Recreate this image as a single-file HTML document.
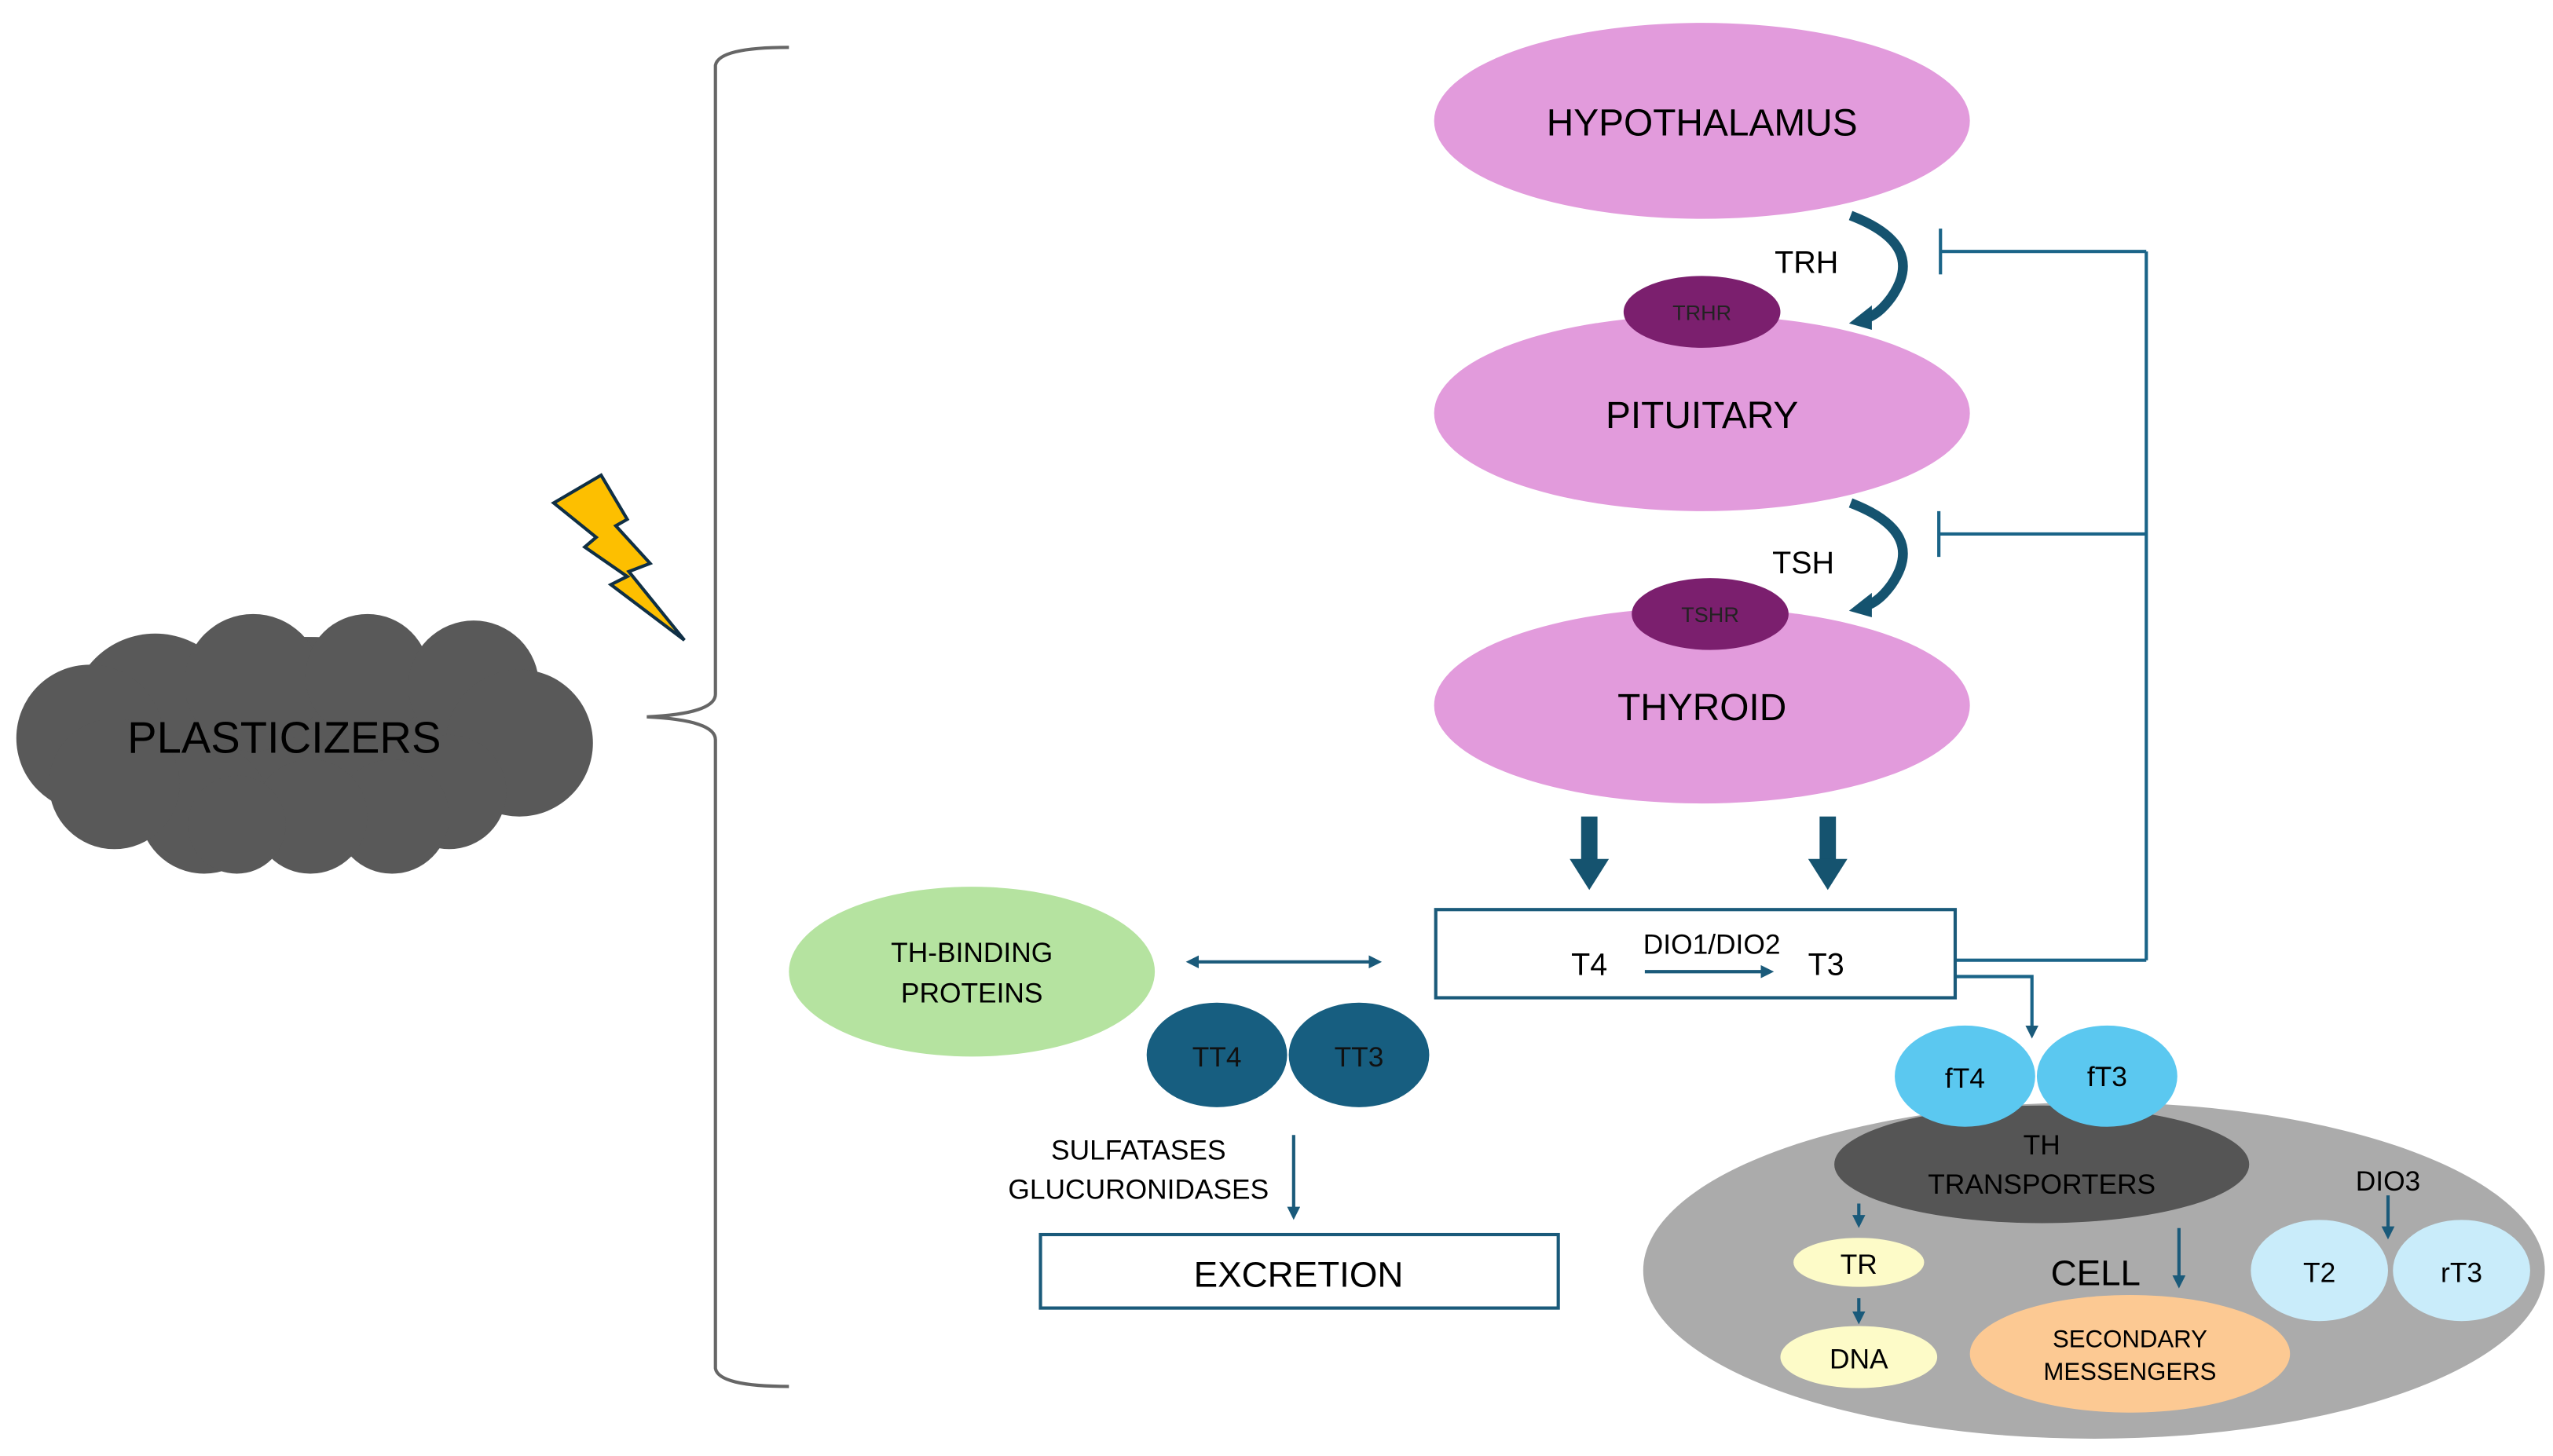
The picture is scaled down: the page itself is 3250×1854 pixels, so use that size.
<!DOCTYPE html>
<html><head><meta charset="utf-8"><style>html,body{margin:0;padding:0;background:#fff}svg{display:block}</style></head>
<body>
<svg width="3250" height="1854" viewBox="0 0 1563 891.6" preserveAspectRatio="none" xmlns="http://www.w3.org/2000/svg" font-family="Liberation Sans, sans-serif">
<defs>
<marker id="ah" markerWidth="8" markerHeight="8" refX="6" refY="4" orient="auto" markerUnits="userSpaceOnUse"><path d="M0,0 L8,4 L0,8 z" fill="#1a5a7a"/></marker>
<marker id="ahs" markerWidth="8" markerHeight="8" refX="2" refY="4" orient="auto-start-reverse" markerUnits="userSpaceOnUse"><path d="M0,0 L8,4 L0,8 z" fill="#1a5a7a"/></marker>
</defs>
<!-- brace -->
<path d="M483,29 Q440,29 438,40 L438,425 Q438,437 396,439 Q438,441 438,453 L438,838 Q440,849 483,849" fill="none" stroke="#666" stroke-width="2"/>
<!-- cloud -->
<g fill="#595959">
<ellipse cx="185" cy="455" rx="165" ry="65"/>
<circle cx="95" cy="440" r="52"/><circle cx="155" cy="418" r="42"/><circle cx="225" cy="414" r="38"/><circle cx="290" cy="420" r="40"/>
<circle cx="318" cy="455" r="45"/><circle cx="275" cy="485" r="35"/><circle cx="240" cy="500" r="35"/><circle cx="190" cy="500" r="35"/>
<circle cx="125" cy="495" r="40"/><circle cx="55" cy="452" r="45"/><circle cx="70" cy="480" r="40"/><circle cx="145" cy="505" r="30"/>
</g>
<text x="174" y="461" font-size="27" text-anchor="middle" fill="#000">PLASTICIZERS</text>
<!-- lightning -->
<polygon points="368,291 384,318 377,322 398,345 385,350 419,392 374,358 384,353 358,335 365,329 339,308" fill="#fdbf00" stroke="#0f2f45" stroke-width="2" stroke-linejoin="miter"/>
<!-- HPT ellipses -->
<ellipse cx="1042" cy="74" rx="164" ry="60" fill="#e29bdc"/>
<text x="1042" y="83" font-size="23" text-anchor="middle">HYPOTHALAMUS</text>
<ellipse cx="1042" cy="253" rx="164" ry="60" fill="#e29bdc"/>
<ellipse cx="1042" cy="191" rx="48" ry="22" fill="#7b1f6e"/>
<text x="1042" y="196" font-size="13" text-anchor="middle" fill="#222">TRHR</text>
<text x="1042" y="262" font-size="23" text-anchor="middle">PITUITARY</text>
<ellipse cx="1042" cy="432" rx="164" ry="60" fill="#e29bdc"/>
<ellipse cx="1047" cy="376" rx="48" ry="22" fill="#7b1f6e"/>
<text x="1047" y="381" font-size="13" text-anchor="middle" fill="#222">TSHR</text>
<text x="1042" y="441" font-size="23" text-anchor="middle">THYROID</text>
<text x="1106" y="167" font-size="19" text-anchor="middle">TRH</text>
<text x="1104" y="351" font-size="19" text-anchor="middle">TSH</text>
<!-- curved arrows -->
<path d="M1133,132 Q1180,150 1158,182 Q1150,193 1142,195" fill="none" stroke="#15536f" stroke-width="6"/>
<path d="M1132,198 L1146,187 L1146,202 z" fill="#15536f"/>
<path d="M1133,308 Q1180,326 1158,358 Q1150,369 1142,371" fill="none" stroke="#15536f" stroke-width="6"/>
<path d="M1132,374 L1146,363 L1146,378 z" fill="#15536f"/>
<!-- inhibition -->
<g stroke="#1a6488" stroke-width="2" fill="none">
<line x1="1188" y1="140" x2="1188" y2="168"/><line x1="1188" y1="154" x2="1314" y2="154"/>
<line x1="1187" y1="313" x2="1187" y2="341"/><line x1="1187" y1="327" x2="1314" y2="327"/>
<line x1="1314" y1="154" x2="1314" y2="588"/><line x1="1197" y1="588" x2="1314" y2="588"/>
<polyline points="1197,598 1244,598 1244,634" marker-end="url(#ah)"/>
</g>
<!-- thick down arrows -->
<g fill="#15536f">
<rect x="968" y="500" width="10" height="28"/><path d="M961,526 L985,526 L973,545 z"/>
<rect x="1114" y="500" width="10" height="28"/><path d="M1107,526 L1131,526 L1119,545 z"/>
</g>
<!-- T4/T3 box -->
<rect x="879" y="557" width="318" height="54" fill="#fff" stroke="#1a5a7a" stroke-width="2"/>
<text x="973" y="597" font-size="19" text-anchor="middle">T4</text>
<text x="1048" y="584" font-size="17" text-anchor="middle">DIO1/DIO2</text>
<text x="1118" y="597" font-size="19" text-anchor="middle">T3</text>
<line x1="1007" y1="595" x2="1084" y2="595" stroke="#1a5a7a" stroke-width="2" marker-end="url(#ah)"/>
<!-- TH binding -->
<ellipse cx="595" cy="595" rx="112" ry="52" fill="#b5e3a0"/>
<text x="595" y="589" font-size="17" text-anchor="middle">TH-BINDING</text>
<text x="595" y="614" font-size="17" text-anchor="middle">PROTEINS</text>
<line x1="732" y1="589" x2="844" y2="589" stroke="#1a5a7a" stroke-width="2" marker-start="url(#ahs)" marker-end="url(#ah)"/>
<ellipse cx="745" cy="646" rx="43" ry="32" fill="#175e80"/>
<ellipse cx="832" cy="646" rx="43" ry="32" fill="#175e80"/>
<text x="745" y="653" font-size="17" text-anchor="middle" fill="#111">TT4</text>
<text x="832" y="653" font-size="17" text-anchor="middle" fill="#111">TT3</text>
<text x="697" y="710" font-size="17" text-anchor="middle">SULFATASES</text>
<text x="697" y="734" font-size="17" text-anchor="middle">GLUCURONIDASES</text>
<line x1="792" y1="695" x2="792" y2="745" stroke="#1a5a7a" stroke-width="2" marker-end="url(#ah)"/>
<rect x="637" y="756" width="317" height="45" fill="#fff" stroke="#1a5a7a" stroke-width="2"/>
<text x="795" y="788" font-size="22" text-anchor="middle">EXCRETION</text>
<!-- cell -->
<ellipse cx="1282" cy="778" rx="276" ry="103" fill="#ababab"/>
<ellipse cx="1250" cy="713" rx="127" ry="36" fill="#555"/>
<ellipse cx="1203" cy="659" rx="43" ry="31" fill="#5bc8f0"/>
<ellipse cx="1290" cy="659" rx="43" ry="31" fill="#5bc8f0"/>
<text x="1203" y="666" font-size="17" text-anchor="middle">fT4</text>
<text x="1290" y="665" font-size="17" text-anchor="middle">fT3</text>
<text x="1250" y="707" font-size="17" text-anchor="middle">TH</text>
<text x="1250" y="731" font-size="17" text-anchor="middle">TRANSPORTERS</text>
<ellipse cx="1138" cy="773" rx="40" ry="15" fill="#fdfbc8"/>
<text x="1138" y="780" font-size="17" text-anchor="middle">TR</text>
<ellipse cx="1138" cy="831" rx="48" ry="19" fill="#fdfbc8"/>
<text x="1138" y="838" font-size="17" text-anchor="middle">DNA</text>
<g stroke="#1a5a7a" stroke-width="2">
<line x1="1138" y1="737" x2="1138" y2="750" marker-end="url(#ah)"/>
<line x1="1138" y1="795" x2="1138" y2="809" marker-end="url(#ah)"/>
<line x1="1334" y1="752" x2="1334" y2="787" marker-end="url(#ah)"/>
<line x1="1462" y1="732" x2="1462" y2="757" marker-end="url(#ah)"/>
</g>
<text x="1283" y="787" font-size="22" text-anchor="middle">CELL</text>
<ellipse cx="1304" cy="829" rx="98" ry="36" fill="#fcc993"/>
<text x="1304" y="825" font-size="15" text-anchor="middle">SECONDARY</text>
<text x="1304" y="845" font-size="15" text-anchor="middle">MESSENGERS</text>
<text x="1462" y="729" font-size="17" text-anchor="middle">DIO3</text>
<ellipse cx="1420" cy="778" rx="42" ry="31" fill="#c9ecfa"/>
<ellipse cx="1507" cy="778" rx="42" ry="31" fill="#c9ecfa"/>
<text x="1420" y="785" font-size="17" text-anchor="middle">T2</text>
<text x="1507" y="785" font-size="17" text-anchor="middle">rT3</text>
</svg>
</body></html>
